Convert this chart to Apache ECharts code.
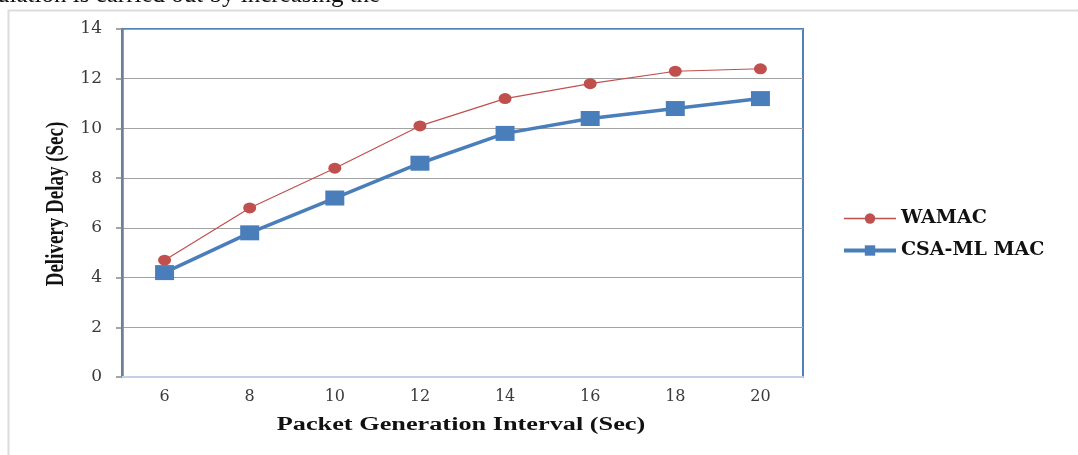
<!DOCTYPE html>
<html>
<head>
<meta charset="utf-8">
<script src="https://cdn.jsdelivr.net/npm/echarts@6/dist/echarts.min.js"></script>
<style>
  html, body { margin: 0; padding: 0; background: #fff; }
  #chart { width: 1078px; height: 455px; }
</style>
</head>
<body>
<div id="chart"></div>
<script>
// Packet generation interval (s) on the x axis
const intervals = ['6', '8', '10', '12', '14', '16', '18', '20'];
// Delivery delay (s) per protocol
const wamacDelay = [4.7, 6.8, 8.4, 10.1, 11.2, 11.8, 12.3, 12.4];
const csaMlDelay = [4.2, 5.8, 7.2, 8.6, 9.8, 10.4, 10.8, 11.2];
const seriesNames = ['WAMAC', 'CSA-ML MAC'];
const yTicks = { min: 0, max: 14, step: 2 };

const serif = '"Liberation Serif", "Times New Roman", serif';
const wideSerif = '"DejaVu Serif", "Liberation Serif", serif';
const red = '#c0504d';
const blue = '#4a7ebb';
const chart = echarts.init(document.getElementById('chart'), null, { renderer: 'canvas' });

chart.setOption({
  animation: false,
  backgroundColor: '#fff',
  grid: {
    left: 122, right: 275, top: 29, bottom: 78,
    show: true, borderColor: '#4f81bd', borderWidth: 2, backgroundColor: 'transparent'
  },
  legend: {
    orient: 'vertical',
    left: 837, top: 204,
    itemWidth: 52, itemHeight: 13, itemGap: 13,
    textStyle: { fontFamily: wideSerif, fontWeight: 'bold', fontSize: 19, color: '#111' },
    data: [
      { name: seriesNames[0], itemStyle: { color: red }, lineStyle: { color: red, width: 1.6 } },
      { name: seriesNames[1], itemStyle: { color: blue }, lineStyle: { color: blue, width: 4 } }
    ]
  },
  xAxis: {
    type: 'category',
    data: intervals,
    boundaryGap: true,
    axisLine: { lineStyle: { color: '#c3d1e6', width: 2 } },
    axisTick: { show: false },
    axisLabel: { margin: 12, fontFamily: wideSerif, fontSize: 16, color: '#3a3a3a' },
    splitLine: { show: false }
  },
  yAxis: {
    type: 'value',
    min: yTicks.min, max: yTicks.max, interval: yTicks.step,
    axisLine: { show: true, lineStyle: { color: '#6d7f9b', width: 2.5 } },
    axisTick: { show: true, length: 6, lineStyle: { color: '#888', width: 1.5 } },
    axisLabel: { margin: 20, fontFamily: wideSerif, fontSize: 17, color: '#3a3a3a' },
    splitLine: { lineStyle: { color: '#a3a3a3', width: 1.2 } }
  },
  series: [
    {
      name: seriesNames[0],
      type: 'line',
      data: wamacDelay,
      symbol: 'circle',
      symbolSize: [13, 11],
      itemStyle: { color: red },
      lineStyle: { color: red, width: 1.2 },
      z: 3
    },
    {
      name: seriesNames[1],
      type: 'line',
      data: csaMlDelay,
      symbol: 'rect',
      symbolSize: [19, 15],
      itemStyle: { color: blue },
      lineStyle: { color: blue, width: 3.5 },
      z: 4
    }
  ],
  graphic: [
    // light frame around the figure
    {
      type: 'rect', left: 6, top: 8, z: -1, silent: true,
      shape: { width: 1090, height: 470 },
      style: { fill: 'none', stroke: '#dcdcdc', lineWidth: 2 }
    },
    // running text of the page just above the figure
    {
      type: 'text', left: -3, top: -17,
      style: { text: 'ulation is carried out by increasing the', fontFamily: serif, fontSize: 25, fill: '#111' }
    },
    // y-axis title
    {
      type: 'text', x: 57, y: 204, rotation: Math.PI / 2, scaleY: 1.3,
      style: {
        text: 'Delivery Delay (Sec)', fontFamily: serif, fontWeight: 'bold', fontSize: 19,
        fill: '#111', align: 'center', verticalAlign: 'middle'
      }
    },
    // x-axis title
    {
      type: 'text', x: 461, y: 425, scaleX: 1.46,
      style: {
        text: 'Packet Generation Interval (Sec)', fontFamily: serif, fontWeight: 'bold', fontSize: 18,
        fill: '#111', align: 'center', verticalAlign: 'middle'
      }
    }
  ]
});
</script>
</body>
</html>
